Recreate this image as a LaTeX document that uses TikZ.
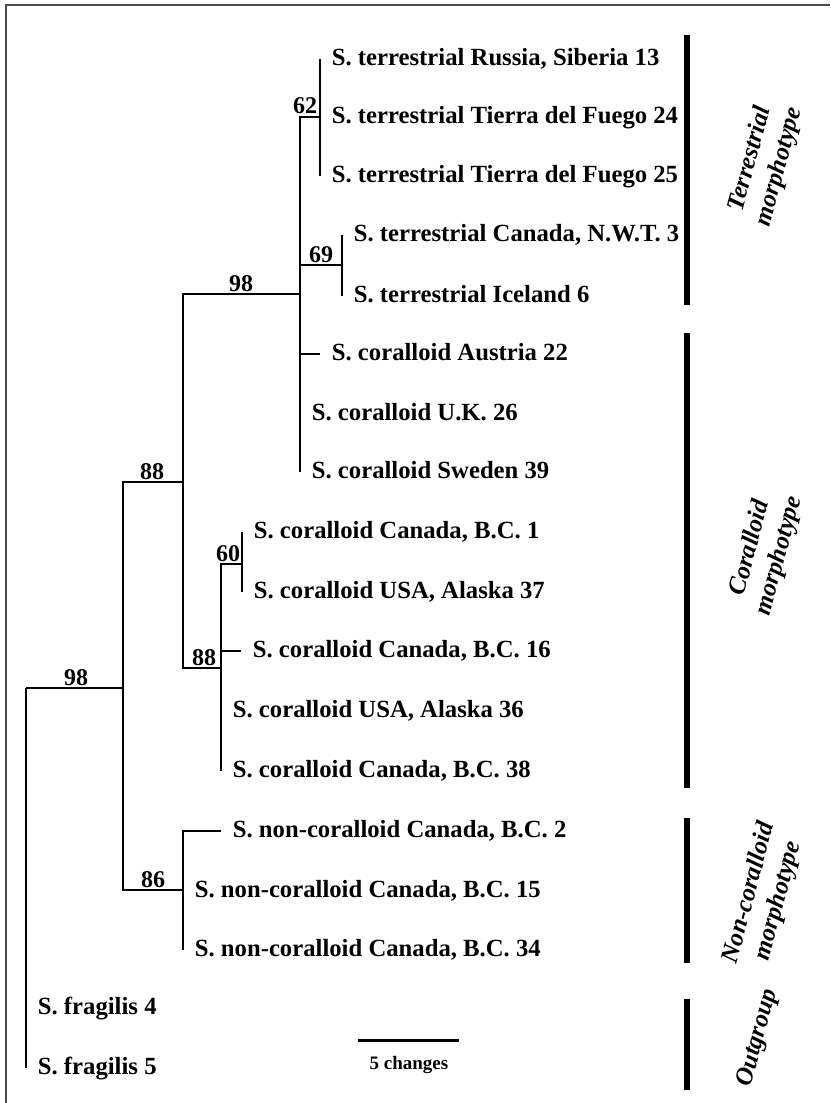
\documentclass[tikz,border=0pt]{standalone}
\usepackage{fontspec}
\setmainfont{Liberation Serif}

\begin{document}
\begin{tikzpicture}[x=1pt, y=-1pt, line width=1.8pt,
    leaf/.style={anchor=west, inner sep=0pt, xshift=11pt, text height=17pt, text depth=5pt,
        font=\fontsize{24.7}{30}\selectfont\bfseries},
    boot/.style={anchor=south, inner sep=1.5pt, font=\fontsize{24}{24}\selectfont\bfseries},
    grp/.style={align=center, rotate=75, font=\fontsize{25}{30}\selectfont\bfseries\itshape},
    bar/.style={line width=5.5pt}]
    \useasboundingbox (0,0) rectangle (830,1103);
    \draw[line width=2pt, black!70] (830,5) -- (6,5) -- (6,1103); % frame of the figure

    % internal nodes: x of the vertical, y of the branch coming in
    \coordinate (R) at (26,688);
    \coordinate (n98a) at (123,688);
    \coordinate (n88a) at (183,482);
    \coordinate (n98b) at (300,294);
    \coordinate (n62) at (320,117);
    \coordinate (n69) at (342,265);
    \coordinate (n88b) at (221,668);
    \coordinate (n60) at (242,564);
    \coordinate (n86) at (183,890);

    % tips and their labels
    \foreach \nm/\tx/\ty/\lbl in {
        t13/320/59/{S. terrestrial Russia, Siberia 13},
        t24/320/117/{S. terrestrial Tierra del Fuego 24},
        t25/320/176/{S. terrestrial Tierra del Fuego 25},
        t3/342/235/{S. terrestrial Canada, N.W.T. 3},
        t6/342/296/{S. terrestrial Iceland 6},
        c22/320/354/{S. coralloid Austria 22},
        c26/300/414/{S. coralloid U.K. 26},
        c39/300/472/{S. coralloid Sweden 39},
        c1/242/532/{S. coralloid Canada, B.C. 1},
        c37/242/592/{S. coralloid USA, Alaska 37},
        c16/241/651/{S. coralloid Canada, B.C. 16},
        c36/221/711/{S. coralloid USA, Alaska 36},
        c38/221/771/{S. coralloid Canada, B.C. 38},
        n2/221/831/{S. non-coralloid Canada, B.C. 2},
        n15/183/891/{S. non-coralloid Canada, B.C. 15},
        n34/183/950/{S. non-coralloid Canada, B.C. 34},
        f4/26/1008/{S. fragilis 4},
        f5/26/1068/{S. fragilis 5}}{
        \coordinate (\nm) at (\tx,\ty);
        \node[leaf] (\nm-lbl) at (\nm) {\lbl};
    }

    % branches, parent to child
    \foreach \p/\c in {R/n98a, R/f4, R/f5, n98a/n88a, n98a/n86, n88a/n98b, n88a/n88b,
        n98b/n62, n98b/n69, n98b/c22, n98b/c26, n98b/c39, n62/t13, n62/t24, n62/t25,
        n69/t3, n69/t6, n88b/n60, n88b/c16, n88b/c36, n88b/c38, n60/c1, n60/c37,
        n86/n2, n86/n15, n86/n34}
        \draw (\p) |- (\c);

    % bootstrap values
    \foreach \nm/\bx/\by/\val in {b62/305/116/62, b69/321/265/69, b98b/241/294/98,
        b88a/152/482/88, b60/228/564/60, b88b/204/668/88, b98a/76/688/98, b86/153/890/86}
        \node[boot] (\nm) at (\bx,\by) {\val};

    % groups on the right
    \foreach \nm/\ya/\yb in {terr/35/305, cora/333/788, nonc/818/963, outg/999/1090}{
        \coordinate (\nm-top) at (687,\ya);
        \coordinate (\nm-bot) at (687,\yb);
        \draw[bar] (\nm-top) -- (\nm-bot);
    }
    \node[grp] (terr-lbl) at (765,163) {Terrestrial\\morphotype};
    \node[grp] (cora-lbl) at (765,552) {Coralloid\\morphotype};
    \node[grp] (nonc-lbl) at (764,897) {Non-coralloid\\morphotype};
    \node[grp] (outg-lbl) at (758,1038) {Outgroup};

    % scale bar
    \coordinate (sb-l) at (358,1040);
    \coordinate (sb-r) at (459,1040);
    \draw[line width=3pt] (sb-l) -- (sb-r);
    \node[font=\fontsize{19}{19}\selectfont\bfseries] (sb-lbl) at (409,1065) {5 changes};
\end{tikzpicture}
\end{document}
